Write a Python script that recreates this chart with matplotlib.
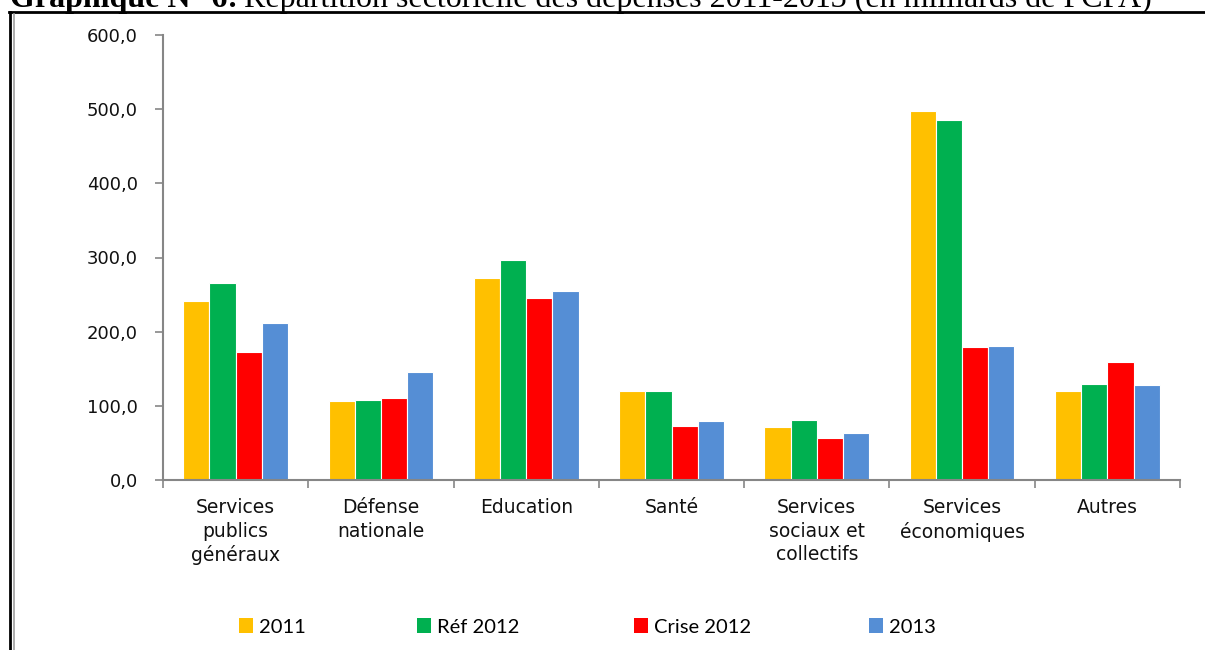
import matplotlib.pyplot as plt
from matplotlib.lines import Line2D
from matplotlib.patches import Patch

plt.rcParams['font.family'] = ['DejaVu Sans']

categories = ["Services\npublics\ngénéraux", "Défense\nnationale", "Education",
              "Santé", "Services\nsociaux et\ncollectifs", "Services\néconomiques",
              "Autres"]
series_names = ["2011", "Réf 2012", "Crise 2012", "2013"]
v2011 = [241, 106, 272, 120, 71, 497, 120]
ref2012 = [266, 108, 297, 120, 81, 485, 130]
crise2012 = [172, 110, 245, 73, 56, 179, 159]
v2013 = [212, 146, 255, 79, 63, 181, 128]
yticks = [0, 100, 200, 300, 400, 500, 600]

colors = ["#FFC000", "#00B050", "#FF0000", "#558ED5"]
values = [v2011, ref2012, crise2012, v2013]

fig = plt.figure(figsize=(12.05, 6.5), dpi=100)
ax = fig.add_axes([163 / 1205, 170 / 650, 1017 / 1205, 445 / 650])

# Grouped bars
width = 0.18
x = list(range(len(categories)))
for i, (vals, col) in enumerate(zip(values, colors)):
    off = (i - 1.5) * width
    ax.bar([k + off for k in x], vals, width, color=col,
           edgecolor="white", linewidth=0.8, label=series_names[i])

ax.set_xlim(-0.5, len(categories) - 0.5)
ax.set_ylim(0, 600)

# Axes styling (Excel-like)
axis_col = "#868686"
for s in ["top", "right"]:
    ax.spines[s].set_visible(False)
for s in ["left", "bottom"]:
    ax.spines[s].set_color(axis_col)
    ax.spines[s].set_linewidth(1.5)

ax.set_yticks(yticks)
ax.set_yticklabels([f"{t:.1f}".replace(".", ",") for t in yticks],
                   fontsize=13, color="#111111")
ax.tick_params(axis="y", length=6, width=1.2, color=axis_col, pad=12)

ax.set_xticks([k - 0.5 for k in range(len(categories) + 1)])
ax.set_xticklabels([])
ax.tick_params(axis="x", which="major", length=6, width=1.2, color=axis_col)
ax.set_xticks(x, minor=True)
ax.set_xticklabels(categories, minor=True, fontsize=13.5, linespacing=1.3,
                   va="top", color="#111111")
ax.tick_params(axis="x", which="minor", length=0, pad=13)

# Legend entries placed individually
leg_x = [229, 407, 624, 859]
for name, col, lx in zip(series_names, colors, leg_x):
    h = Patch(facecolor=col, edgecolor="none")
    fig.legend([h], [name], loc="center left",
               bbox_to_anchor=(lx / 1205, 1 - 627 / 650), frameon=False,
               handlelength=0.7, handleheight=0.7, handletextpad=0.3,
               borderpad=0, prop={"family": "Lato", "size": 14.5})

# Page frame and cut-off caption
fig.add_artist(Line2D([9 / 1205, 1], [1 - 12 / 650] * 2, color="black", lw=2))
fig.add_artist(Line2D([10 / 1205] * 2, [0, 1 - 12 / 650], color="black", lw=2))
fig.add_artist(Line2D([14 / 1205] * 2, [0, 1 - 14 / 650], color="#A0A0A0", lw=1.2))

t1 = fig.text(10 / 1205, 1 - 7 / 650, "Graphique N° 6:", fontsize=23,
              fontweight="bold", family="Liberation Serif", va="baseline")
fig.canvas.draw()
bb = t1.get_window_extent()
fig.text(bb.x1 / 1205 + 6 / 1205, 1 - 7 / 650,
         "Répartition sectorielle des dépenses 2011-2013 (en milliards de FCFA)",
         fontsize=23, family="Liberation Serif", va="baseline")

fig.savefig("out.png", dpi=100)
